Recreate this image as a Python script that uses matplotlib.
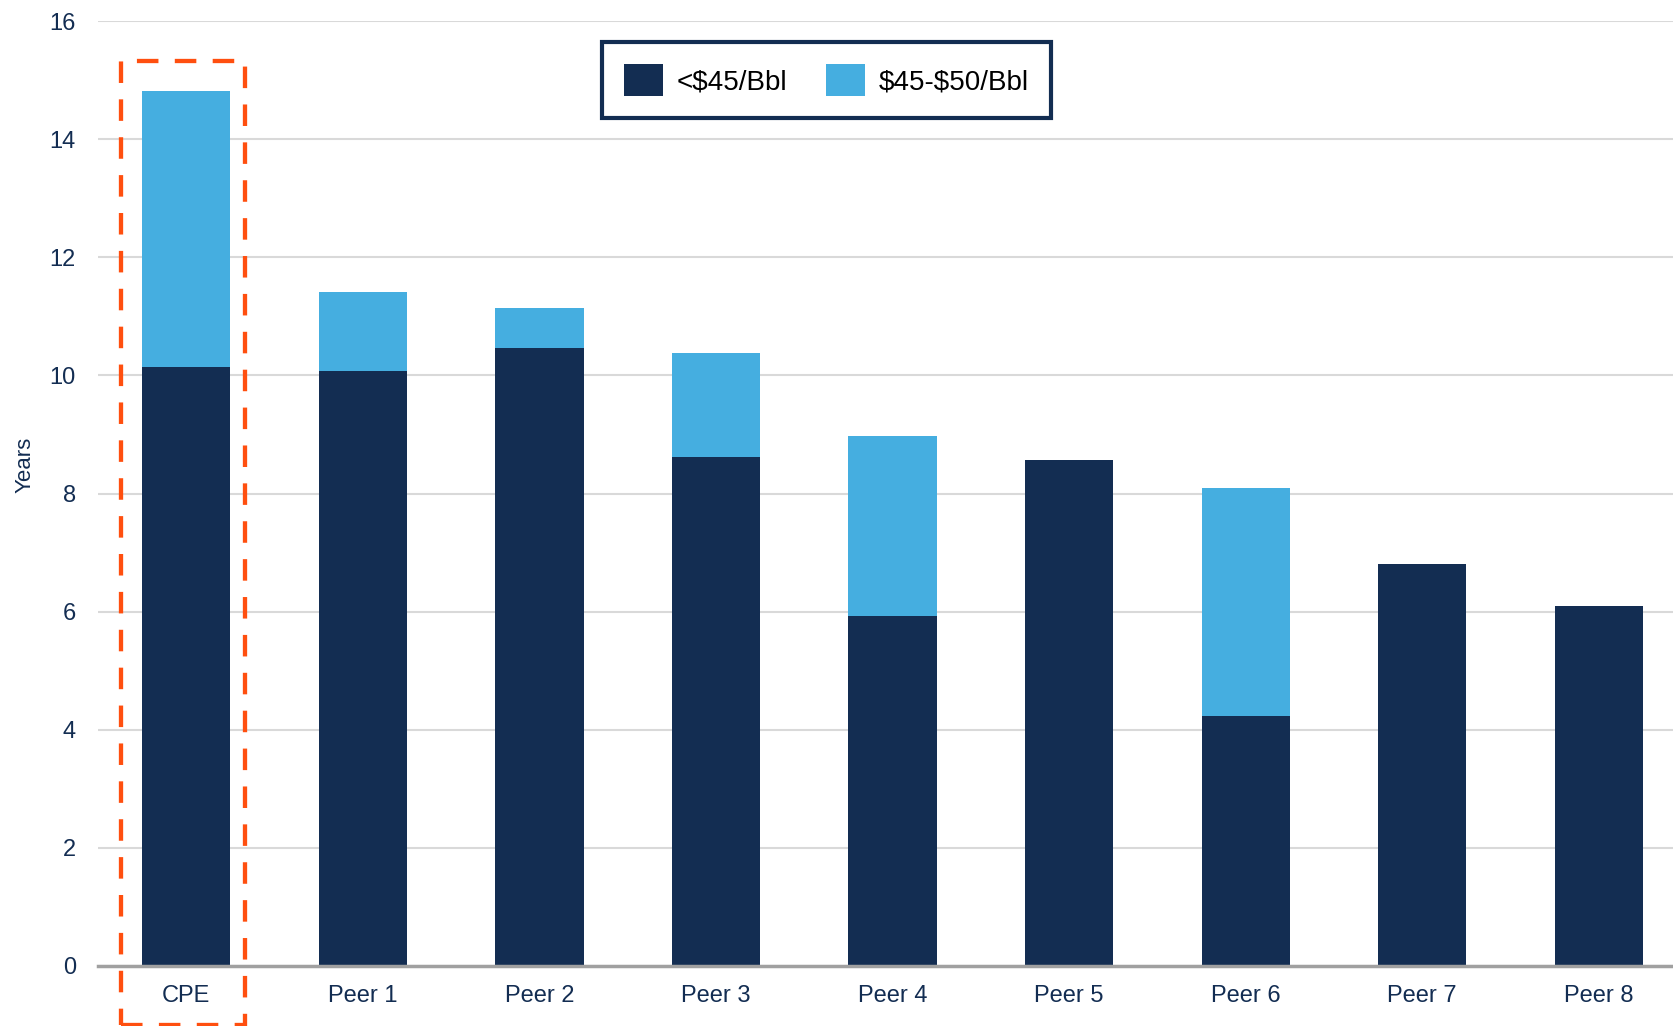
import matplotlib.pyplot as plt
from matplotlib.patches import Rectangle

companies = ["CPE", "Peer 1", "Peer 2", "Peer 3", "Peer 4", "Peer 5", "Peer 6", "Peer 7", "Peer 8"]
below_45 = [10.15, 10.08, 10.47, 8.61, 5.92, 8.56, 4.24, 6.81, 6.09]
from_45_to_50 = [4.66, 1.33, 0.67, 1.77, 3.06, 0.0, 3.85, 0.0, 0.0]

dark = '#132D52'
light = '#45AEE0'
text_col = '#132D52'

plt.rcParams['font.family'] = ['Liberation Sans', 'DejaVu Sans']


def draw_bar():
    fig = plt.figure(figsize=(16.73, 10.26), dpi=100)
    ax = fig.add_axes([0.0586, 0.0585, 0.9414, 0.921])

    x = range(len(companies))
    b1 = ax.bar(x, below_45, 0.5, color=dark, zorder=2)
    b2 = ax.bar(x, from_45_to_50, 0.5, bottom=below_45, color=light, zorder=2)

    ax.set_xlim(-0.5, 8.42)
    ax.set_ylim(0, 16)
    ax.set_yticks(range(0, 17, 2))
    ax.set_xticks(list(x))
    ax.set_xticklabels(companies)
    ax.grid(axis='y', color='#D9D9D9', lw=1.5, zorder=0)
    ax.tick_params(length=0, labelsize=17, labelcolor=text_col)
    ax.tick_params(axis='y', pad=16)
    ax.tick_params(axis='x', pad=14)
    for s in ['top', 'right', 'left']:
        ax.spines[s].set_visible(False)
    ax.spines['bottom'].set_color('#A0A0A0')
    ax.spines['bottom'].set_linewidth(2.5)
    ax.spines['bottom'].set_zorder(3)
    ax.set_ylabel('Years', fontsize=16, color=text_col)
    ax.yaxis.set_label_coords(-0.040, 0.53)

    # highlight box around CPE
    box = Rectangle((-0.368, -1.0), 0.70, 16.32, fill=False, edgecolor='#FF4F0F',
                    lw=3.1, linestyle=(0, (5, 3.8)), clip_on=False, zorder=4)
    ax.add_patch(box)

    leg = ax.legend((b1[0], b2[0]), (r'<\$45/Bbl', r'\$45-\$50/Bbl'), loc='center',
                    bbox_to_anchor=(0.494, 0.922), bbox_transform=fig.transFigure,
                    ncol=2, fontsize=20, handlelength=1.4, handleheight=1.4,
                    handletextpad=0.5, columnspacing=1.4, borderpad=0.8,
                    fancybox=False, framealpha=1)
    leg.get_frame().set_edgecolor(dark)
    leg.get_frame().set_linewidth(3)

    plt.savefig('out.png', dpi=100)


if __name__ == '__main__':
    draw_bar()
